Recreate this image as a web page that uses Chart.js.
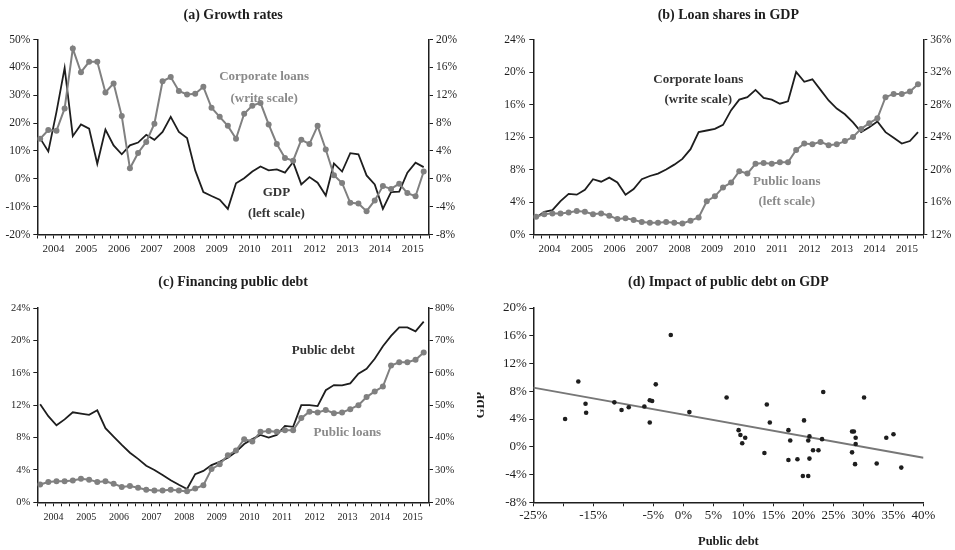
<!DOCTYPE html>
<html>
<head>
<meta charset="utf-8">
<title>Loans, public debt and GDP</title>
<script src="https://cdn.jsdelivr.net/npm/chart.js@4.4.1/dist/chart.umd.min.js"></script>
<style>
  html, body { margin: 0; padding: 0; background: #fff; }
  #page { position: relative; width: 955px; height: 550px; }
  canvas { position: absolute; }
</style>
</head>
<body>
<div id="page">
  <canvas id="growth" width="477" height="270" style="left:0;top:0"></canvas>
  <canvas id="shares" width="478" height="270" style="left:477px;top:0"></canvas>
  <canvas id="financing" width="477" height="280" style="left:0;top:270px"></canvas>
  <canvas id="impact" width="478" height="280" style="left:477px;top:270px"></canvas>
</div>
<script>
const FIRST_YEAR = 2004;
const QUARTERS = 48;
const QUARTER_OFFSET = 0.35;

// (a) growth rates, % y/y, quarterly 2004Q1..2015Q4
const gdpGrowth = [14.5, 9.8, 24, 39.8, 15.3, 19.5, 18.0, 5.4, 17.7, 12.0,
    8.8, 12.0, 13.0, 15.8, 14.0, 16.8, 22.2, 16.8, 14.6, 3.0,
    -4.8, -6.2, -7.5, -10.8, -1.6, 0.2, 2.6, 4.4, 3.0, 3.4,
    2.2, 6.0, -2.0, 0.6, -1.4, -6.0, 5.5, 2.6, 9.2, 8.8,
    1.2, -2.0, -10.8, -4.8, -4.6, 2.2, 5.8, 4.2];
const corporateLoansGrowth = [5.75, 7.0, 6.9, 10.1, 18.7, 15.3, 16.8, 16.8, 12.4, 13.7,
    9.0, 1.5, 3.7, 5.3, 7.9, 14.0, 14.6, 12.6, 12.1, 12.2,
    13.2, 10.2, 8.9, 7.6, 5.75, 9.35, 10.5, 10.9, 7.8, 5.0,
    3.0, 2.6, 5.6, 5.0, 7.6, 4.2, 0.5, -0.6, -3.45, -3.55,
    -4.65, -3.1, -1.05, -1.45, -0.7, -2.05, -2.5, 1.05];

// (b), (c) stocks in % of GDP
const publicLoansShare = [2.2, 2.5, 2.6, 2.6, 2.7, 2.9, 2.8, 2.5, 2.6, 2.3,
    1.9, 2.0, 1.8, 1.55, 1.45, 1.45, 1.55, 1.45, 1.35, 1.7,
    2.1, 4.1, 4.7, 5.8, 6.4, 7.8, 7.5, 8.7, 8.8, 8.7,
    8.9, 8.9, 10.4, 11.2, 11.1, 11.4, 11.0, 11.1, 11.5, 12.0,
    13.0, 13.7, 14.3, 16.9, 17.3, 17.3, 17.6, 18.5];
const corporateLoansShare = [14.1, 14.8, 15.0, 16.1, 17.0, 16.9, 17.5, 18.8, 18.5, 19.0,
    18.4, 16.9, 17.6, 18.8, 19.2, 19.5, 20.0, 20.6, 21.3, 22.5,
    24.6, 24.8, 25.0, 25.5, 27.3, 28.6, 28.9, 29.8, 28.8, 28.6,
    28.1, 28.4, 32.0, 30.8, 31.1, 29.8, 28.5, 27.5, 26.8, 25.8,
    24.6, 25.2, 25.9, 24.6, 23.9, 23.2, 23.5, 24.6];
const publicDebtShare = [50.3, 46.6, 43.8, 45.6, 47.8, 47.4, 47.0, 48.4, 42.9, 40.3,
    37.7, 35.3, 33.4, 31.3, 30.0, 28.4, 26.8, 25.4, 24.1, 28.7,
    29.7, 31.5, 32.5, 33.8, 35.6, 38.0, 39.5, 40.8, 40.0, 40.8,
    43.6, 43.3, 50.0, 50.0, 49.7, 54.6, 56.2, 56.1, 56.7, 59.7,
    61.2, 64.3, 68.2, 71.4, 74.0, 74.0, 72.8, 75.8];

// (d) change in public debt vs GDP growth, %
const debtChange = [-19.7, -17.5, -16.3, -16.2, -11.5, -10.3, -9.1, -6.5, -5.6, -5.2,
    -5.6, -4.6, -2.1, 1.0, 7.2, 9.2, 9.5, 9.8, 10.3, 13.5,
    13.9, 14.4, 17.5, 17.5, 17.8, 19.0, 20.1, 19.9, 20.8, 20.8,
    21.0, 21.0, 21.6, 22.5, 23.1, 23.3, 28.1, 28.4, 28.1, 28.6,
    28.7, 28.7, 30.1, 32.2, 33.8, 35.0, 36.3];
const gdpChange = [4.0, 9.4, 6.2, 4.9, 6.4, 5.3, 5.7, 5.8, 6.7, 6.6,
    3.5, 9.0, 16.1, 5.0, 7.1, 2.4, 1.7, 0.5, 1.3, -0.9,
    6.1, 3.5, 2.4, -1.9, 0.9, -1.8, 3.8, -4.2, -4.2, 0.9,
    1.5, -1.7, -0.5, -0.5, 1.1, 7.9, 2.2, 2.2, -0.8, -2.5,
    1.3, 0.4, 7.1, -2.4, 1.3, 1.8, -3.0];

// axis ranges: [min, max, step]
const growthLeftRange = [-20, 50, 10];
const growthRightRange = [-8, 20, 4];
const sharesLeftRange = [0, 24, 4];
const sharesRightRange = [12, 36, 4];
const debtLeftRange = [0, 24, 4];
const debtRightRange = [20, 80, 10];
const impactXRange = [-25, 40, 5];
const impactYRange = [-8, 20, 4];
const impactHiddenX = [-20, -10];

const SERIF = "'Liberation Serif', 'Times New Roman', serif";
const INK = '#1e1e1e';
const GREY = '#808080';
const NOTE_GREY = '#8a8a8a';

function toPoints(values) {
    return values.map((v, i) => ({ x: i + QUARTER_OFFSET, y: v }));
}

function leastSquares(xs, ys) {
    const n = xs.length;
    const mx = xs.reduce((a, b) => a + b, 0) / n;
    const my = ys.reduce((a, b) => a + b, 0) / n;
    let sxy = 0, sxx = 0;
    xs.forEach((x, i) => { sxy += (x - mx) * (ys[i] - my); sxx += (x - mx) * (x - mx); });
    const slope = sxy / sxx;
    return x => my + slope * (x - mx);
}

// headings, in-plot series notes and axis titles
function panelText(cfg) {
    return {
        id: 'panelText',
        afterDraw(chart) {
            const { ctx, chartArea: area, scales } = chart;
            const midX = (area.left + area.right) / 2;
            ctx.save();
            ctx.textAlign = 'center';
            ctx.textBaseline = 'middle';
            ctx.fillStyle = INK;
            ctx.font = `bold 14px ${SERIF}`;
            ctx.fillText(cfg.heading, midX, area.top - cfg.headingGap);
            (cfg.notes || []).forEach(n => {
                ctx.font = `bold 13px ${SERIF}`;
                ctx.fillStyle = n.color;
                ctx.fillText(n.text, scales.x.getPixelForValue(n.x), scales[n.axis].getPixelForValue(n.y));
            });
            ctx.fillStyle = INK;
            ctx.font = `bold 12.5px ${SERIF}`;
            if (cfg.xTitle) ctx.fillText(cfg.xTitle.text, midX, area.bottom + cfg.xTitle.gap);
            if (cfg.yTitle) {
                ctx.translate(area.left - cfg.yTitle.gap, (area.top + area.bottom) / 2);
                ctx.rotate(-Math.PI / 2);
                ctx.fillText(cfg.yTitle.text, 0, 0);
            }
            ctx.restore();
        }
    };
}

function quarterAxis(fontSize, height, padding) {
    return {
        type: 'linear',
        min: 0,
        max: QUARTERS,
        ticks: {
            stepSize: 1,
            autoSkip: false,
            maxRotation: 0,
            padding,
            color: INK,
            font: { family: SERIF, size: fontSize },
            callback: v => (v % 4 === 2 ? String(FIRST_YEAR + (v - 2) / 4) : ''),
        },
        grid: { drawOnChartArea: false, tickLength: 4, color: INK },
        border: { color: INK, width: 1.5 },
        afterFit: s => { s.height = height; },
    };
}

function valueAxis(position, range, fontSize, width, padding) {
    return {
        type: 'linear',
        position,
        min: range[0],
        max: range[1],
        ticks: {
            stepSize: range[2],
            padding,
            color: INK,
            font: { family: SERIF, size: fontSize },
            callback: v => v + '%',
        },
        grid: { drawOnChartArea: false, tickLength: 4, color: INK },
        border: { color: INK, width: 1.5 },
        afterFit: s => { s.width = width; },
    };
}

function greyLine(values, axis) {
    return {
        data: toPoints(values),
        yAxisID: axis,
        borderColor: GREY,
        backgroundColor: GREY,
        borderWidth: 2,
        pointRadius: 3,
        pointBorderWidth: 0,
        tension: 0,
    };
}

function blackLine(values, axis) {
    return {
        data: toPoints(values),
        yAxisID: axis,
        borderColor: INK,
        borderWidth: 1.8,
        pointRadius: 0,
        tension: 0,
    };
}

const baseOptions = {
    responsive: false,
    animation: false,
    events: [],
    plugins: { legend: { display: false }, tooltip: { enabled: false } },
};

// (a) Growth rates
new Chart(document.getElementById('growth'), {
    type: 'line',
    data: { datasets: [greyLine(corporateLoansGrowth, 'y1'), blackLine(gdpGrowth, 'y')] },
    options: {
        ...baseOptions,
        layout: { padding: { top: 39.5, left: 0, right: 0, bottom: 0 } },
        scales: {
            x: quarterAxis(11, 35.5, 4),
            y: valueAxis('left', growthLeftRange, 11.5, 37.3, 3),
            y1: valueAxis('right', growthRightRange, 11.5, 48, 3),
        },
    },
    plugins: [panelText({
        heading: '(a) Growth rates',
        headingGap: 24.5,
        notes: [
            { text: 'Corporate loans', x: 27.8, y: 36.6, axis: 'y', color: NOTE_GREY },
            { text: '(write scale)', x: 27.8, y: 28.9, axis: 'y', color: NOTE_GREY },
            { text: 'GDP', x: 29.3, y: -5.0, axis: 'y', color: '#333' },
            { text: '(left scale)', x: 29.3, y: -12.4, axis: 'y', color: '#333' },
        ],
    })],
});

// (b) Loan shares in GDP
new Chart(document.getElementById('shares'), {
    type: 'line',
    data: { datasets: [greyLine(publicLoansShare, 'y'), blackLine(corporateLoansShare, 'y1')] },
    options: {
        ...baseOptions,
        layout: { padding: { top: 39.5, left: 0, right: 0, bottom: 0 } },
        scales: {
            x: quarterAxis(11, 35.5, 4),
            y: valueAxis('left', sharesLeftRange, 11.5, 56.3, 4),
            y1: valueAxis('right', sharesRightRange, 11.5, 31.7, 3),
        },
    },
    plugins: [panelText({
        heading: '(b) Loan shares in GDP',
        headingGap: 24.5,
        notes: [
            { text: 'Corporate loans', x: 20.3, y: 19.1, axis: 'y', color: '#333' },
            { text: '(write scale)', x: 20.3, y: 16.6, axis: 'y', color: '#333' },
            { text: 'Public loans', x: 31.2, y: 6.5, axis: 'y', color: NOTE_GREY },
            { text: '(left scale)', x: 31.2, y: 4.0, axis: 'y', color: NOTE_GREY },
        ],
    })],
});

// (c) Financing public debt
new Chart(document.getElementById('financing'), {
    type: 'line',
    data: { datasets: [greyLine(publicLoansShare, 'y'), blackLine(publicDebtShare, 'y1')] },
    options: {
        ...baseOptions,
        layout: { padding: { top: 38, left: 0, right: 0, bottom: 0 } },
        scales: {
            x: quarterAxis(10, 47.7, 5),
            y: valueAxis('left', debtLeftRange, 10.5, 37.3, 3),
            y1: valueAxis('right', debtRightRange, 10.5, 48, 2),
        },
    },
    plugins: [panelText({
        heading: '(c) Financing public debt',
        headingGap: 26,
        notes: [
            { text: 'Public debt', x: 35.05, y: 18.7, axis: 'y', color: '#333' },
            { text: 'Public loans', x: 38.0, y: 8.65, axis: 'y', color: NOTE_GREY },
        ],
    })],
});

// (d) Impact of public debt on GDP, with the least-squares line across the x range
const fit = leastSquares(debtChange, gdpChange);
const trendX = [impactXRange[0], impactXRange[1]];

const impactX = {
    type: 'linear',
    position: 'bottom',
    min: impactXRange[0],
    max: impactXRange[1],
    ticks: {
        stepSize: impactXRange[2],
        autoSkip: false,
        maxRotation: 0,
        minRotation: 0,
        padding: 1,
        color: INK,
        font: { family: SERIF, size: 13 },
        callback: v => (impactHiddenX.includes(v) ? '' : v + '%'),
    },
    grid: { drawOnChartArea: false, tickLength: 4, color: INK },
    border: { color: INK, width: 1.5 },
    afterFit: s => { s.height = 47.7; },
};

new Chart(document.getElementById('impact'), {
    type: 'scatter',
    data: {
        datasets: [
            {
                data: debtChange.map((x, i) => ({ x, y: gdpChange[i] })),
                backgroundColor: INK,
                borderWidth: 0,
                pointRadius: 2.3,
            },
            {
                type: 'line',
                data: trendX.map(x => ({ x, y: fit(x) })),
                borderColor: '#777',
                borderWidth: 2,
                pointRadius: 0,
                tension: 0,
            },
        ],
    },
    options: {
        ...baseOptions,
        layout: { padding: { top: 38, left: 0, right: 31.5, bottom: 0 } },
        scales: {
            x: impactX,
            y: valueAxis('left', impactYRange, 13, 56.3, 2.5),
        },
    },
    plugins: [panelText({
        heading: '(d) Impact of public debt on GDP',
        headingGap: 26,
        xTitle: { text: 'Public debt', gap: 39.5 },
        yTitle: { text: 'GDP', gap: 52.3 },
    })],
});
</script>
</body>
</html>
